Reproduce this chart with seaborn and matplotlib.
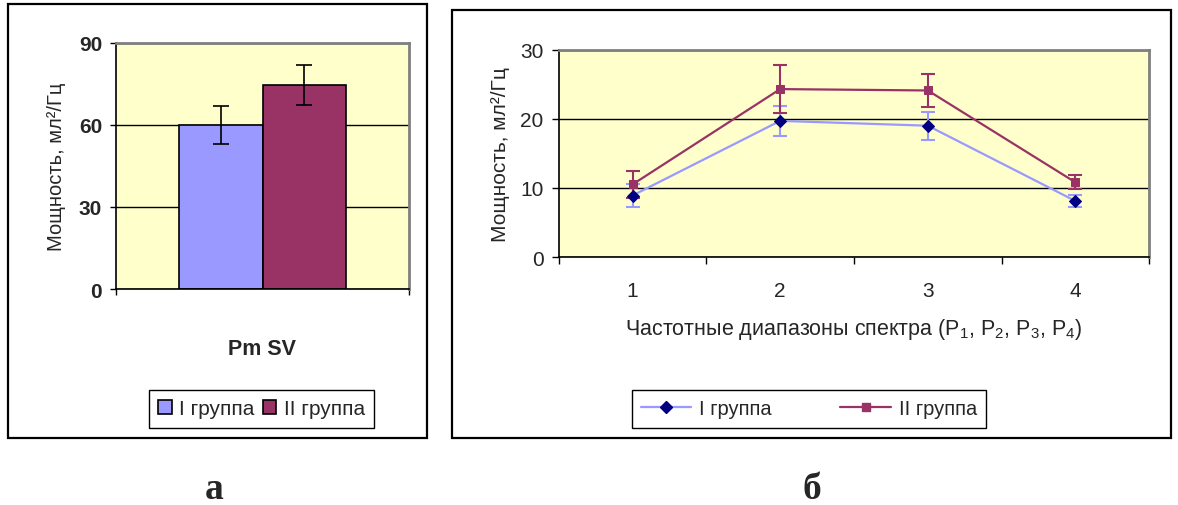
import matplotlib
matplotlib.use('Agg')
import matplotlib.pyplot as plt
import seaborn as sns
import pandas as pd
from matplotlib.patches import Rectangle, Patch
from matplotlib.lines import Line2D

# ---- data ----
groups = ['I группа', 'II группа']
bar_category = 'Pm SV'
bar_values = [60.0, 74.5]
bar_errors = [7.0, 7.3]

bands = ['1', '2', '3', '4']
g1_values = [8.9, 19.7, 19.0, 8.1]
g1_errors = [1.6, 2.2, 2.0, 0.9]
g2_values = [10.5, 24.3, 24.1, 10.8]
g2_errors = [1.9, 3.5, 2.4, 1.0]

y_ticks_a = [0, 30, 60, 90]
y_ticks_b = [0, 10, 20, 30]

ylabel = 'Мощность, мл²/Гц'
xlabel_b = r'Частотные диапазоны спектра (P$_1$, P$_2$, P$_3$, P$_4$)'
panel_labels = ['а', 'б']

# ---- style ----
sns.set_theme(style='ticks')
plt.rcParams['font.family'] = ['Liberation Sans', 'DejaVu Sans']
plt.rcParams['mathtext.fontset'] = 'custom'
plt.rcParams['mathtext.rm'] = 'Liberation Sans'
plt.rcParams['mathtext.it'] = 'Liberation Sans:italic'
plt.rcParams['mathtext.bf'] = 'Liberation Sans:bold'

c1_fill = '#9999FF'
c2_fill = '#993366'
c1_marker = '#000080'
bg = '#FFFFCC'

W, H = 1178, 506
fig = plt.figure(figsize=(W / 100, H / 100), dpi=100)

def fx(px):
    return px / W

def fy(py):
    return 1 - py / H

# frames
fig.add_artist(Rectangle((fx(8), fy(439)), fx(427) - fx(8), fy(5) - fy(439),
                         transform=fig.transFigure, fill=False, lw=1.6, ec='black'))
fig.add_artist(Rectangle((fx(452), fy(439)), fx(1171) - fx(452), fy(11) - fy(439),
                         transform=fig.transFigure, fill=False, lw=1.6, ec='black'))

# ---- panel a ----
ax1 = fig.add_axes([fx(116), fy(290), fx(409) - fx(116), fy(44) - fy(290)])
df_a = pd.DataFrame({'cat': [bar_category] * len(groups), 'group': groups, 'value': bar_values})
sns.barplot(data=df_a, x='cat', y='value', hue='group', palette=[c1_fill, c2_fill],
            width=0.57, gap=0, edgecolor='black', linewidth=1.2, errorbar=None,
            saturation=1, legend=False, ax=ax1)
centers = [p.get_x() + p.get_width() / 2 for p in ax1.patches][:len(groups)]
ax1.errorbar(centers, bar_values, yerr=bar_errors, fmt='none', ecolor='black',
             elinewidth=1.2, capsize=6, capthick=1.2, zorder=3)
ax1.set_xlim(-0.5, 0.5)
ax1.set_ylim(0, 90)
ax1.set_yticks(y_ticks_a)
ax1.set_yticklabels([str(v) for v in y_ticks_a], fontsize=15, fontweight='bold')
ax1.set_xticks([-0.5, 0.5])
ax1.set_xticklabels(['', ''])
ax1.tick_params(axis='both', direction='out', length=4, width=1, color='black', pad=6,
                left=True, bottom=True)
ax1.set_facecolor(bg)
ax1.set_axisbelow(True)
ax1.yaxis.grid(True, color='black', lw=1)
for s in ['left', 'bottom']:
    ax1.spines[s].set_color('black')
    ax1.spines[s].set_linewidth(1.2)
for s in ['top', 'right']:
    ax1.spines[s].set_visible(True)
    ax1.spines[s].set_color('#808080')
    ax1.spines[s].set_linewidth(2)
ax1.set_xlabel(bar_category, fontsize=15.5, fontweight='bold', labelpad=25)
ax1.set_ylabel(ylabel, fontsize=14.5, labelpad=9)

leg_a = [Patch(facecolor=c1_fill, edgecolor='black', lw=1.2, label=groups[0]),
         Patch(facecolor=c2_fill, edgecolor='black', lw=1.2, label=groups[1])]
fig.legend(handles=leg_a, loc='center', bbox_to_anchor=(fx(261.5), fy(410)), ncol=2,
           fontsize=15, frameon=True, fancybox=False, edgecolor='black', framealpha=1,
           handlelength=0.65, handleheight=0.65, handletextpad=0.35, columnspacing=0.4,
           borderpad=0.45, borderaxespad=0)

# ---- panel b ----
ax2 = fig.add_axes([fx(558.7), fy(258), fx(1149.3) - fx(558.7), fy(50.7) - fy(258)])
xpos = list(range(len(bands)))
ax2.errorbar(xpos, g1_values, yerr=g1_errors, fmt='none', ecolor=c1_fill,
             elinewidth=1.5, capsize=5.3, capthick=1.5, zorder=2)
ax2.errorbar(xpos, g2_values, yerr=g2_errors, fmt='none', ecolor=c2_fill,
             elinewidth=1.5, capsize=5.3, capthick=1.5, zorder=2)
sns.lineplot(x=xpos, y=g1_values, color=c1_fill, lw=1.6, marker='D', markersize=6.5,
             markerfacecolor=c1_marker, markeredgecolor=c1_marker, ax=ax2, zorder=3)
sns.lineplot(x=xpos, y=g2_values, color=c2_fill, lw=1.6, marker='s', markersize=6,
             markerfacecolor=c2_fill, markeredgecolor=c2_fill, ax=ax2, zorder=4)
ax2.set_xlim(-0.5, len(bands) - 0.5)
ax2.set_ylim(0, 30)
ax2.set_yticks(y_ticks_b)
ax2.set_yticklabels([str(v) for v in y_ticks_b], fontsize=15)
ax2.set_xticks([i - 0.5 for i in range(len(bands) + 1)])
ax2.set_xticklabels([''] * (len(bands) + 1))
ax2.set_xticks(xpos, minor=True)
ax2.set_xticklabels(bands, minor=True, fontsize=15)
ax2.tick_params(axis='both', which='major', direction='out', length=5, width=1,
                color='black', pad=6, left=True, bottom=True)
ax2.tick_params(axis='x', which='minor', length=0, pad=17, bottom=True)
ax2.set_facecolor(bg)
ax2.set_axisbelow(True)
ax2.yaxis.grid(True, color='black', lw=1)
for s in ['left', 'bottom']:
    ax2.spines[s].set_color('black')
    ax2.spines[s].set_linewidth(1.2)
for s in ['top', 'right']:
    ax2.spines[s].set_visible(True)
    ax2.spines[s].set_color('#808080')
    ax2.spines[s].set_linewidth(2)
ax2.set_xlabel(xlabel_b, fontsize=15.5, labelpad=12)
ax2.set_ylabel(ylabel, fontsize=15, labelpad=7)

leg_b = [Line2D([], [], color=c1_fill, lw=1.6, marker='D', markersize=6.5,
                markerfacecolor=c1_marker, markeredgecolor=c1_marker, label=groups[0]),
         Line2D([], [], color=c2_fill, lw=1.6, marker='s', markersize=6,
                markerfacecolor=c2_fill, markeredgecolor=c2_fill, label=groups[1])]
fig.legend(handles=leg_b, loc='center', bbox_to_anchor=(fx(809), fy(410)), ncol=2,
           fontsize=14.5, frameon=True, fancybox=False, edgecolor='black', framealpha=1,
           handlelength=2.5, handletextpad=0.4, columnspacing=3.4, borderpad=0.45,
           borderaxespad=0)

# ---- panel letters ----
fig.text(fx(214), fy(499), panel_labels[0], fontsize=27, fontweight='bold',
         family='Liberation Serif', ha='center', va='baseline')
fig.text(fx(812), fy(499), panel_labels[1], fontsize=27, fontweight='bold',
         family='Liberation Serif', ha='center', va='baseline')

fig.savefig('out.png', dpi=100)
